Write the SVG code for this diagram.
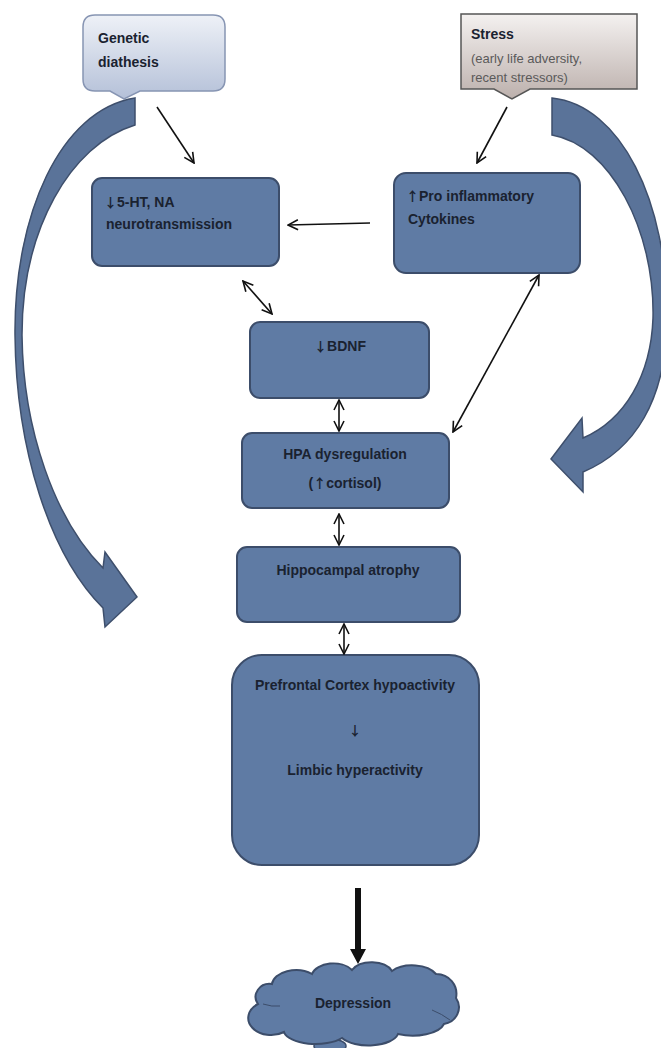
<svg xmlns="http://www.w3.org/2000/svg" width="661" height="1048" viewBox="0 0 661 1048">
<defs>
<linearGradient id="gGen" x1="0" y1="0" x2="0" y2="1"><stop offset="0" stop-color="#eef1f7"/><stop offset="1" stop-color="#b4c0d8"/></linearGradient>
<linearGradient id="gStr" x1="0" y1="0" x2="0" y2="1"><stop offset="0" stop-color="#f4f1f0"/><stop offset="1" stop-color="#bcb0ac"/></linearGradient>
<marker id="ah" viewBox="0 0 12 12" refX="11" refY="6" markerWidth="12" markerHeight="12" markerUnits="userSpaceOnUse" orient="auto-start-reverse">
<path d="M1,1 L11,6 L1,11" fill="none" stroke="#111" stroke-width="1.6"/>
</marker>
<style>
.node{fill:#5f7ba4;stroke:#3c4d6a;stroke-width:2}
.t{font-family:"Liberation Sans",Arial,sans-serif;font-weight:bold;font-size:14px;fill:#1a2230}
.c{text-anchor:middle}
.ar{font-family:"Noto Sans CJK SC","DejaVu Sans",sans-serif;font-weight:bold;font-size:13px}
.s{font-family:"Liberation Sans",Arial,sans-serif;font-size:13px;fill:#5a5a5a}
.ln{stroke:#111;stroke-width:1.6;fill:none}
.big{fill:#5a7399;stroke:#3e4f6c;stroke-width:1.5}
</style>
</defs>
<rect width="661" height="1048" fill="#ffffff"/>

<g id="genetic">
<path d="M95,15 H213 Q225,15 225,27 V79 Q225,91 213,91 H140 L124,99 L110,91 H95 Q83,91 83,79 V27 Q83,15 95,15 Z" fill="url(#gGen)" stroke="#8795b3" stroke-width="1.5"/>
<text class="t" x="98" y="43">Genetic</text>
<text class="t" x="98" y="67">diathesis</text>
</g>

<g id="stress">
<path d="M461,14 H637 V89 H530 L512,99 L494,89 H461 Z" fill="url(#gStr)" stroke="#555" stroke-width="1.5"/>
<text class="t" x="471" y="39">Stress</text>
<text class="s" x="471" y="63">(early life adversity,</text>
<text class="s" x="471" y="82">recent stressors)</text>
</g>

<g id="leftCurve">
<path class="big" d="M135,98 C60,110 14,215 15,335 C16,450 50,555 103,608 L105,627 L137,597 L105,552 L103,568 C55,520 23,430 22,335 C22,230 70,145 135,125 Z"/>
</g>

<g id="rightCurve">
<path class="big" d="M552,98 C620,105 668,200 667,320 C666,400 635,450 583,472 L583,492 L551,459 L582,418 L583,438 C625,420 651,375 653,318 C655,230 610,145 552,135 Z"/>
</g>

<g id="n5ht">
<rect class="node" x="92" y="178" width="187" height="88" rx="10"/>
<text class="t" x="104" y="207"><tspan class="ar">↓</tspan>5-HT, NA</text>
<text class="t" x="106" y="229">neurotransmission</text>
</g>

<g id="cytokines">
<rect class="node" x="394" y="173" width="186" height="100" rx="12"/>
<text class="t" x="406" y="201"><tspan class="ar">↑</tspan>Pro inflammatory</text>
<text class="t" x="408" y="224">Cytokines</text>
</g>

<g id="bdnf">
<rect class="node" x="250" y="322" width="179" height="76" rx="10"/>
<text class="t c" x="340" y="351"><tspan class="ar">↓</tspan>BDNF</text>
</g>

<g id="hpa">
<rect class="node" x="242" y="433" width="207" height="75" rx="10"/>
<text class="t c" x="345" y="459">HPA dysregulation</text>
<text class="t c" x="345" y="488">(<tspan class="ar">↑</tspan>cortisol)</text>
</g>

<g id="hippo">
<rect class="node" x="237" y="547" width="223" height="75" rx="10"/>
<text class="t c" x="348" y="575">Hippocampal atrophy</text>
</g>

<g id="pfc">
<rect class="node" x="232" y="655" width="247" height="210" rx="30"/>
<text class="t c" x="355" y="690">Prefrontal Cortex hypoactivity</text>
<text class="t c ar" x="355" y="735" font-weight="normal">↓</text>
<text class="t c" x="355" y="775">Limbic hyperactivity</text>
</g>

<g id="depression">
<ellipse cx="330" cy="1046" rx="16" ry="7" fill="#5f7ba4" stroke="#3c4d6a" stroke-width="1.5"/>
<path class="node" stroke-width="1.5" d="M258,1004 A14,13 0 0 1 272,984 A24,15 0 0 1 312,974 A22,14 0 0 1 352,970 A22,14 0 0 1 392,971 A26,15 0 0 1 436,974 A20,20 0 0 1 456,998 A18,17 0 0 1 444,1024 A32,15 0 0 1 398,1034 A30,14 0 0 1 342,1038 A32,14 0 0 1 284,1032 A16,12 0 0 1 258,1004 Z"/>
<path d="M263,1004 Q272,1007 280,1006 M432,1010 Q442,1014 450,1020" fill="none" stroke="#3c4d6a" stroke-width="1"/>
<text class="t c" x="353" y="1008">Depression</text>
</g>

<g id="connectors">
<line class="ln" x1="157" y1="107" x2="194" y2="163" marker-end="url(#ah)"/>
<line class="ln" x1="507" y1="107" x2="477" y2="163" marker-end="url(#ah)"/>
<line class="ln" x1="370" y1="223" x2="288" y2="225" marker-end="url(#ah)"/>
<line class="ln" x1="243" y1="281" x2="272" y2="314" marker-start="url(#ah)" marker-end="url(#ah)"/>
<line class="ln" x1="339" y1="400" x2="339" y2="431" marker-start="url(#ah)" marker-end="url(#ah)"/>
<line class="ln" x1="539" y1="275" x2="453" y2="432" marker-start="url(#ah)" marker-end="url(#ah)"/>
<line class="ln" x1="339" y1="514" x2="339" y2="545" marker-start="url(#ah)" marker-end="url(#ah)"/>
<line class="ln" x1="344" y1="624" x2="344" y2="654" marker-start="url(#ah)" marker-end="url(#ah)"/>
<rect x="355" y="888" width="6" height="62" fill="#111"/>
<polygon points="350,949 366,949 358,964" fill="#111"/>
</g>
</svg>
